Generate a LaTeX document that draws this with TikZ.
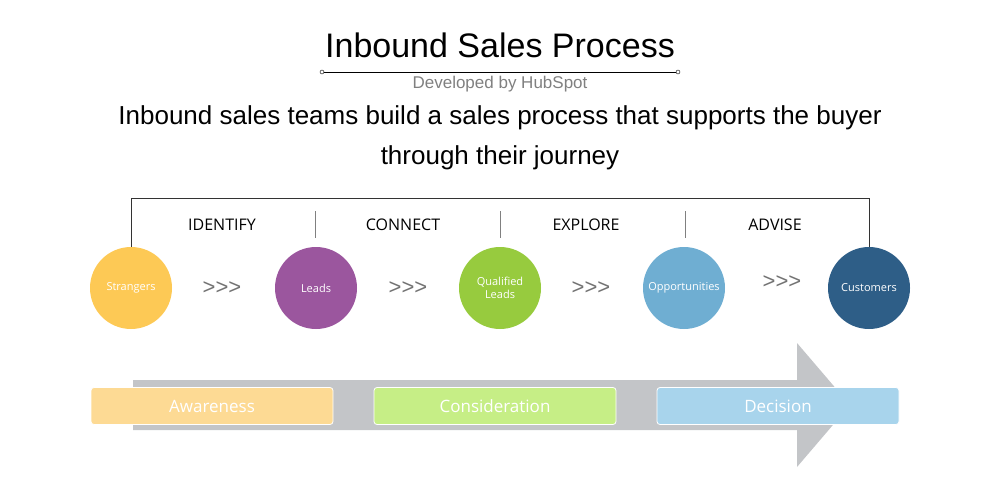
\documentclass[tikz,border=0pt]{standalone}
\usepackage{fontspec}
\setmainfont{Open Sans}
\newfontfamily\arialf{Liberation Sans}
\definecolor{cy}{HTML}{FDC955}\definecolor{cp}{HTML}{9B569E}\definecolor{cg}{HTML}{97CB3E}
\definecolor{cl}{HTML}{6FAED2}\definecolor{cd}{HTML}{2E5E87}
\definecolor{by}{HTML}{FDDA94}\definecolor{bg}{HTML}{C6EE86}\definecolor{bb}{HTML}{A8D4EC}
\definecolor{ar}{HTML}{C3C5C8}
\begin{document}
\begin{tikzpicture}[x=1pt,y=-1pt,
 circ/.style={circle,minimum size=82pt,inner sep=0pt,text=white,font=\fontsize{11}{13}\selectfont,align=center},
 stage/.style={font=\fontsize{16}{18}\selectfont},
 chev/.style={text=gray!90!black,font=\arialf\fontsize{22}{24}\selectfont},
 phase/.style={rounded corners=3pt,draw=white,line width=0.8pt,minimum width=242pt,minimum height=37pt,inner sep=0pt,text=white,font=\fontsize{17}{19}\selectfont}]
\useasboundingbox (0,0) rectangle (1000,500);
\node[font=\arialf\fontsize{34}{38}\selectfont] (title) at (500,45) {Inbound Sales Process};
\coordinate (l1) at (322,72); \coordinate (l2) at (678,72);
\draw[thin] (l1) -- (l2);
\draw[fill=white,thin] (l1) circle (2pt) (l2) circle (2pt);
\node[text=gray,font=\arialf\fontsize{17}{19}\selectfont] (dev) at (500,84) {Developed by HubSpot};
\node[font=\arialf\fontsize{26}{40}\selectfont,align=center] (sub) at (500,138) {Inbound sales teams build a sales process that supports the buyer\\through their journey};
% arrow
\fill[ar] (133,380) -- (797,380) -- (797,343) -- (850,405) -- (797,467) -- (797,430) -- (133,430) -- cycle;
\node[phase,fill=by] (aw) at (212,406) {Awareness};
\node[phase,fill=bg] (co) at (495,406) {Consideration};
\node[phase,fill=bb] (de) at (778,406) {Decision};
% circles
\node[circ,fill=cy] (s) at (131,288) {Strangers};
\node[circ,fill=cp] (le) at (316,288) {Leads};
\node[circ,fill=cg] (q) at (500,288) {Qualified\\Leads};
\node[circ,fill=cl] (o) at (684,288) {Opportunities};
\node[circ,fill=cd] (c) at (869,288) {Customers};
\draw[thick,black!80] (s.north) -- (131,198) -- (869,198) -- (c.north);
\foreach \x in {315,500,685}{\draw[thick,gray] (\x,211) -- (\x,238);}
\node[stage] (i1) at (222,225) {IDENTIFY};
\node[stage] (i2) at (403,225) {CONNECT};
\node[stage] (i3) at (586,225) {EXPLORE};
\node[stage] (i4) at (775,225) {ADVISE};
\node[chev] (a1) at (222,288) {>>>};
\node[chev] (a2) at (408,288) {>>>};
\node[chev] (a3) at (591,288) {>>>};
\node[chev] (a4) at (782,282) {>>>};
\end{tikzpicture}
\end{document}
